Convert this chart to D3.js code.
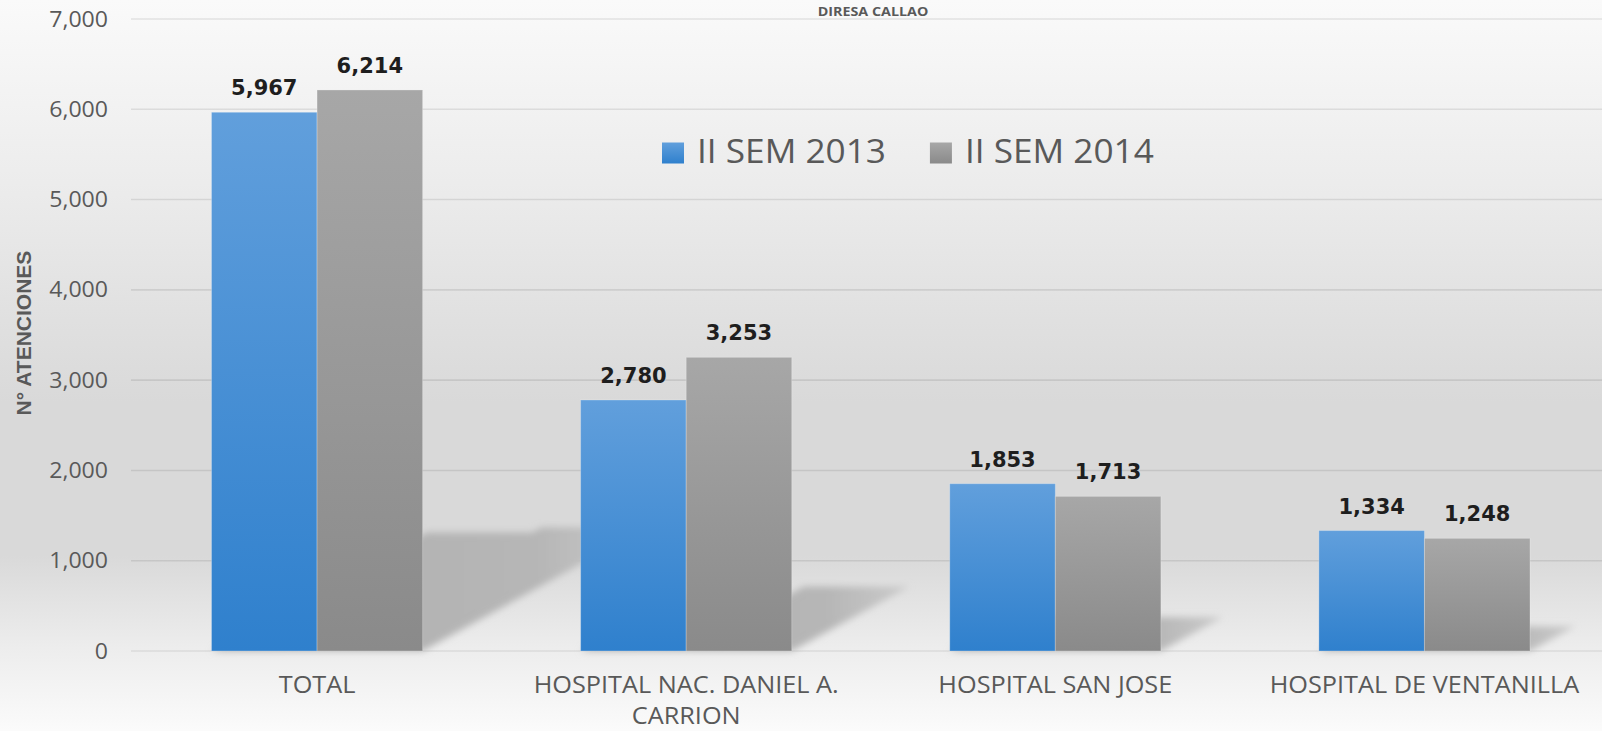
<!DOCTYPE html>
<html>
<head>
<meta charset="utf-8">
<script src="https://cdn.jsdelivr.net/npm/d3@7"></script>
<style>
  html, body { margin: 0; padding: 0; overflow: hidden; background: #f5f5f5; }
  svg { display: block; }
</style>
</head>
<body>
<div id="chart"></div>
<script>
// data
const categories = [
  "TOTAL",
  "HOSPITAL NAC. DANIEL A. CARRION",
  "HOSPITAL SAN JOSE",
  "HOSPITAL DE VENTANILLA",
];
const seriesNames = ["II SEM 2013", "II SEM 2014"];
const sem2013 = [5967, 2780, 1853, 1334];
const sem2014 = [6214, 3253, 1713, 1248];
const yTicks = [0, 1000, 2000, 3000, 4000, 5000, 6000, 7000];
const chartTitle = "DIRESA CALLAO";
const yTitle = "N° ATENCIONES";

const width = 1602;
const height = 731;
const stretchX = 1.1; // the original picture is a bit wider than tall
const textFont = "'Open Sans', sans-serif";

const svg = d3
  .select("#chart")
  .append("svg")
  .attr("width", width)
  .attr("height", height);

const defs = svg.append("defs");

// background gradient
const bg = defs.append("linearGradient").attr("id", "bg").attr("x1", 0).attr("y1", 0).attr("x2", 0).attr("y2", 1);
[
  [0, "#fafafa"],
  [0.25, "#ececec"],
  [0.55, "#d9d9d9"],
  [0.76, "#d9d9d9"],
  [0.88, "#ececec"],
  [1, "#fbfbfb"],
].forEach(([o, c]) => bg.append("stop").attr("offset", o).attr("stop-color", c));

function barGradient(id, top, bottom) {
  const g = defs.append("linearGradient").attr("id", id).attr("x1", 0).attr("y1", 0).attr("x2", 0).attr("y2", 1);
  g.append("stop").attr("offset", 0).attr("stop-color", top);
  g.append("stop").attr("offset", 1).attr("stop-color", bottom);
}
barGradient("blue", "#619fdc", "#2f80cd");
barGradient("gray", "#a7a7a7", "#8a8a8a");
const fills = ["url(#blue)", "url(#gray)"];

const sg = defs.append("linearGradient").attr("id", "shadowFill").attr("x1", 0).attr("y1", 0).attr("x2", 1).attr("y2", 0);
sg.append("stop").attr("offset", 0).attr("stop-color", "#b0b0b0");
sg.append("stop").attr("offset", 0.75).attr("stop-color", "#b6b6b6");
sg.append("stop").attr("offset", 1).attr("stop-color", "#cbcbcb");

defs
  .append("filter")
  .attr("id", "blur")
  .attr("x", "-20%").attr("y", "-20%").attr("width", "140%").attr("height", "140%")
  .append("feGaussianBlur")
  .attr("stdDeviation", 3.5);

svg.append("rect").attr("width", width).attr("height", height).attr("fill", "url(#bg)");

// scales
const x0 = d3
  .scaleBand()
  .domain(categories)
  .range([132.5, 1609])
  .paddingInner(0.428)
  .paddingOuter(0.214);

const x1 = d3.scaleBand().domain(seriesNames).range([0, x0.bandwidth()]);

const y = d3.scaleLinear().domain([0, 7000]).range([651, 19]);

const values = categories.map((c, i) => [sem2013[i], sem2014[i]]);

// gridlines
svg
  .append("g")
  .selectAll("line")
  .data(yTicks)
  .enter()
  .append("line")
  .attr("x1", 131)
  .attr("x2", width)
  .attr("y1", (d) => y(d))
  .attr("y2", (d) => y(d))
  .attr("stroke", "#000")
  .attr("stroke-opacity", (d) => (d === 0 ? 0.08 : 0.09))
  .attr("stroke-width", 1.6);

// tick labels
svg
  .append("g")
  .selectAll("text")
  .data(yTicks)
  .enter()
  .append("text")
  .attr("transform", (d) => `translate(108,${y(d)}) scale(${stretchX},1)`)
  .attr("dy", "0.36em")
  .attr("text-anchor", "end")
  .attr("font-family", textFont)
  .attr("font-size", 21)
  .attr("fill", "#595959")
  .text((d) => d3.format(",")(d));

// perspective shadows thrown back to the right of each group
const shear = 0.4;
const squash = 0.22;
svg
  .append("g")
  .attr("filter", "url(#blur)")
  .selectAll("path")
  .data(values)
  .enter()
  .append("path")
  .attr("fill", "url(#shadowFill)")
  .attr("d", (vals, i) => {
    const base = y(0);
    return vals
      .map((v, j) => {
        const left = x0(categories[i]) + x1(seriesNames[j]);
        const right = left + x1.bandwidth();
        const h = base - y(v);
        return `M${left},${base}L${right},${base}L${right + shear * h},${base - squash * h}L${left + shear * h},${base - squash * h}Z`;
      })
      .join("");
  });

// bars
const groups = svg
  .append("g")
  .selectAll("g")
  .data(values)
  .enter()
  .append("g")
  .attr("transform", (d, i) => `translate(${x0(categories[i])},0)`);

groups
  .selectAll("rect")
  .data((d) => d)
  .enter()
  .append("rect")
  .attr("x", (d, j) => x1(seriesNames[j]))
  .attr("y", (d) => y(d))
  .attr("width", x1.bandwidth())
  .attr("height", (d) => y(0) - y(d))
  .attr("fill", (d, j) => fills[j])
  .attr("stroke", "#fff")
  .attr("stroke-opacity", 0.25)
  .attr("stroke-width", 1);

// value labels
groups
  .selectAll("text")
  .data((d) => d)
  .enter()
  .append("text")
  .attr("x", (d, j) => x1(seriesNames[j]) + x1.bandwidth() / 2)
  .attr("y", (d) => y(d) - 17)
  .attr("text-anchor", "middle")
  .attr("font-family", "'DejaVu Sans', sans-serif")
  .attr("font-weight", "bold")
  .attr("font-size", 21)
  .attr("fill", "#1e1e1e")
  .text((d) => d3.format(",")(d));

// category labels, wrapped to the band step
const catLabels = svg
  .append("g")
  .selectAll("text")
  .data(categories)
  .enter()
  .append("text")
  .attr("transform", (d) => `translate(${x0(d) + x0.bandwidth() / 2},${y(0) + 42}) scale(${stretchX},1)`)
  .attr("text-anchor", "middle")
  .attr("font-family", textFont)
  .attr("font-size", 23)
  .attr("fill", "#595959");

catLabels.each(function (d) {
  const text = d3.select(this);
  const maxWidth = (x0.step() * 0.95) / stretchX;
  const words = d.split(" ");
  let line = [];
  let lineNo = 0;
  let tspan = text.append("tspan").attr("x", 0).attr("y", 0);
  words.forEach((w) => {
    line.push(w);
    tspan.text(line.join(" "));
    if (tspan.node().getComputedTextLength() > maxWidth && line.length > 1) {
      line.pop();
      tspan.text(line.join(" "));
      line = [w];
      lineNo += 1;
      tspan = text.append("tspan").attr("x", 0).attr("y", lineNo * 31).text(w);
    }
  });
});

// legend
const legend = svg.append("g").attr("transform", "translate(662,153)");
let legendX = 0;
seriesNames.forEach((name, j) => {
  const item = legend.append("g").attr("transform", `translate(${legendX},0)`);
  item
    .append("rect")
    .attr("x", 0)
    .attr("y", -10.5)
    .attr("width", 22)
    .attr("height", 21)
    .attr("fill", fills[j]);
  const t = item
    .append("text")
    .attr("transform", `translate(35,10) scale(${stretchX},1)`)
    .attr("font-family", textFont)
    .attr("font-size", 32)
    .attr("fill", "#595959")
    .text(name);
  legendX += 35 + t.node().getComputedTextLength() * stretchX + 44;
});

// axis title
svg
  .append("text")
  .attr("transform", `translate(31,333) rotate(-90)`)
  .attr("text-anchor", "middle")
  .attr("font-family", "'Liberation Sans Narrow', 'Liberation Sans', sans-serif")
  .attr("font-weight", "bold")
  .attr("font-size", 21)
  .attr("fill", "#595959")
  .text(yTitle);

// chart title, kept in the thin strip above the plot
svg
  .append("text")
  .attr("transform", `translate(873,16) scale(${stretchX},1)`)
  .attr("text-anchor", "middle")
  .attr("font-family", textFont)
  .attr("font-weight", "bold")
  .attr("font-size", 13)
  .attr("fill", "#595959")
  .text(chartTitle);
</script>
</body>
</html>
